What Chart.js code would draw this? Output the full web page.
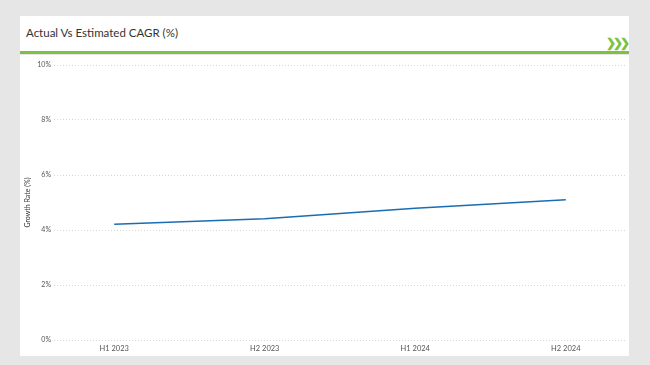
<!DOCTYPE html>
<html>
<head>
<meta charset="utf-8">
<script src="https://cdn.jsdelivr.net/npm/chart.js@4.4.1/dist/chart.umd.min.js"></script>
<style>
  html, body { margin: 0; padding: 0; }
  body { width: 650px; height: 365px; background: #e6e6e6; position: relative; overflow: hidden; font-family: Lato, "Open Sans", sans-serif; }
  #header { position: absolute; left: 20px; top: 16px; width: 609px; height: 35px; background: #fff; }
  #title { position: absolute; left: 6px; top: 10px; font-size: 11.5px; color: #333; white-space: nowrap; }
  #chev { position: absolute; right: 2px; top: 19px; font-size: 12px; font-weight: 900; color: #7cc242; letter-spacing: -3px; }
  #green { position: absolute; left: 20px; top: 51px; width: 609px; height: 2.5px; background: #7dc142; }
  #panel { position: absolute; left: 20px; top: 55px; width: 609px; height: 301px; background: #fff; }
  #wrap { position: absolute; left: 0; top: 0; width: 609px; height: 301px; }
</style>
</head>
<body>
<div id="header"><div id="title">Actual Vs Estimated CAGR (%)</div><div id="chev">&#10095;&#10095;&#10095;</div></div>
<div id="green"></div>
<div id="panel"><div id="wrap"><canvas id="c"></canvas></div></div>
<script>
const categories = ["H1 2023", "H2 2023", "H1 2024", "H2 2024"];
const growthRate = [4.21, 4.41, 4.79, 5.1];
const yTicks = [0, 2, 4, 6, 8, 10];

const points = categories.map((c, i) => ({ x: i, y: growthRate[i] }));

new Chart(document.getElementById('c'), {
  type: 'line',
  data: {
    datasets: [{
      label: 'Growth Rate',
      data: points,
      borderColor: '#1b6db2',
      borderWidth: 1.6,
      pointRadius: 0,
      tension: 0,
      fill: false
    }]
  },
  options: {
    responsive: true,
    maintainAspectRatio: false,
    animation: false,
    layout: { padding: { left: 0, right: 3, top: 10, bottom: 0 } },
    plugins: { legend: { display: false }, tooltip: { enabled: false } },
    scales: {
      x: {
        type: 'linear',
        min: -0.4,
        max: 3.4,
        afterBuildTicks: (s) => { s.ticks = categories.map((c, i) => ({ value: i })); },
        afterFit: (s) => { s.height = 16; },
        grid: { display: false, drawTicks: false },
        border: { display: false },
        ticks: {
          color: '#555',
          font: { family: 'Lato', size: 7.5 },
          padding: 4,
          maxRotation: 0,
          callback: (v) => categories[v]
        }
      },
      y: {
        min: 0,
        max: 10,
        afterBuildTicks: (s) => { s.ticks = yTicks.map(v => ({ value: v })); },
        afterFit: (s) => { s.width = 34; },
        grid: { color: '#d6d6d6', lineWidth: 1, drawTicks: false },
        border: { display: false, dash: [1, 2] },
        ticks: {
          color: '#555',
          font: { family: 'Lato', size: 7 },
          padding: 3,
          callback: (v) => v + '%'
        },
        title: {
          display: true,
          text: 'Growth Rate (%)',
          color: '#333',
          font: { family: 'Lato', size: 7 },
          padding: { top: 4, bottom: 2 }
        }
      }
    }
  }
});
</script>
</body>
</html>
